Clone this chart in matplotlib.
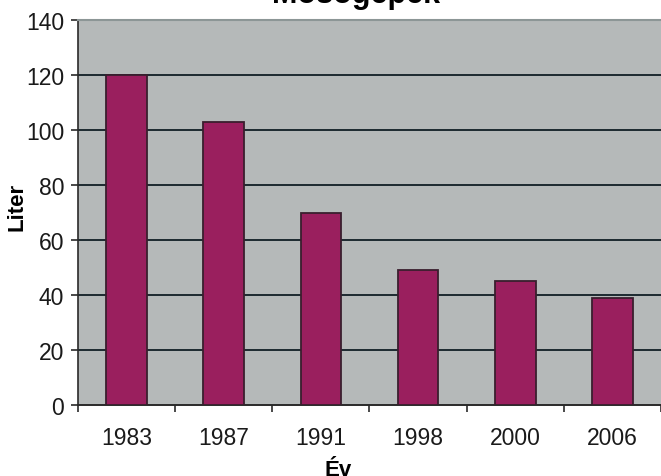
import matplotlib.pyplot as plt
import numpy as np

plt.rcParams['font.family'] = ['Liberation Sans', 'DejaVu Sans']

evek = ['1983', '1987', '1991', '1998', '2000', '2006']
liter = [120, 103, 70, 49, 45, 39]
y_ticks = [0, 20, 40, 60, 80, 100, 120, 140]

fig = plt.figure(figsize=(6.61, 4.77), dpi=100)
ax = fig.add_axes([78 / 661, 71 / 477, 583 / 661, 385 / 477])
ax.set_facecolor('#b5b9b9')

x = np.arange(len(evek))
ax.bar(x, liter, width=0.42, color='#9a1f5e', edgecolor='#3a1e2e', linewidth=1.3, zorder=3)

# gridlines
for v in y_ticks[1:-1]:
    ax.axhline(v, color='#1c2a30', linewidth=1.4, zorder=2)

ax.set_xlim(-0.5, len(evek) - 0.5)
ax.set_ylim(0, 140)
ax.set_yticks(y_ticks)
ax.set_xticks(x)
ax.set_xticklabels(evek)
ax.set_xticks(np.arange(len(evek) + 1) - 0.5, minor=True)

ax.tick_params(axis='y', direction='out', length=5, width=1.2, color='#2a2a2a',
               labelsize=16.5, pad=5, labelcolor='#1a1a1a')
ax.tick_params(axis='x', which='major', length=0, labelsize=16.5, pad=15, labelcolor='#1a1a1a')
ax.tick_params(axis='x', which='minor', direction='out', length=5, width=1.2, color='#2a2a2a')

ax.spines['right'].set_visible(False)
ax.spines['top'].set_color('#8c9696')
ax.spines['top'].set_linewidth(1.5)
ax.spines['left'].set_color('#2a2a2a')
ax.spines['left'].set_linewidth(1.2)
ax.spines['bottom'].set_color('#2a2a2a')
ax.spines['bottom'].set_linewidth(1.4)

fig.text(17 / 661, 1 - 207 / 477, 'Liter', rotation=90, ha='center', va='center',
         fontsize=16, fontweight='bold')
fig.text(338 / 661, 1 - 476 / 477, 'Év', ha='center', va='baseline',
         fontsize=16, fontweight='bold')
fig.text(356 / 661, 1 - 3 / 477, 'Mosógépek', ha='center', va='baseline',
         fontsize=22, fontweight='bold')

fig.savefig('out.png', dpi=100)
